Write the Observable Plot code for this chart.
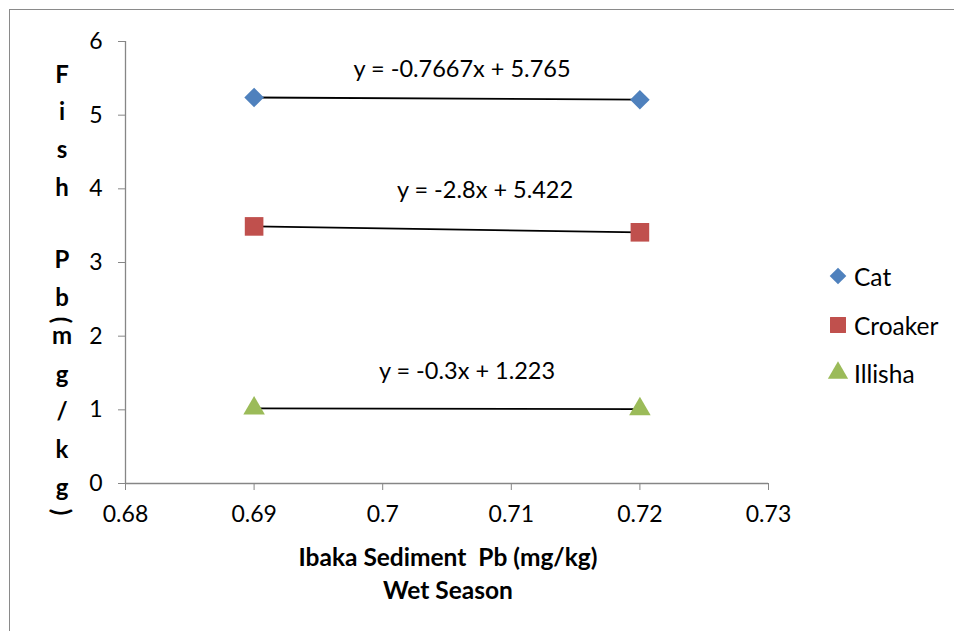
<!DOCTYPE html>
<html><head><meta charset="utf-8">
<script src="https://cdn.jsdelivr.net/npm/d3@7"></script>
<script src="https://cdn.jsdelivr.net/npm/@observablehq/plot@0.6"></script>
<style>
body{margin:0;background:#fff;}
#wrap{position:relative;width:954px;height:631px;overflow:hidden;background:#fff;}
#frame{position:absolute;left:9px;top:9px;width:1000px;height:700px;border:1px solid #8a8a8a;}
#chart{position:absolute;left:0;top:0;}
</style></head><body>
<div id="wrap"><div id="frame"></div><div id="chart"></div></div>
<script>
const species = ["Cat", "Croaker", "Illisha"];
const sedimentPb = [0.69, 0.72];
const catPb = [5.24, 5.21];
const croakerPb = [3.49, 3.41];
const illishaPb = [1.02, 1.01];
const equations = ["y = -0.7667x + 5.765", "y = -2.8x + 5.422", "y = -0.3x + 1.223"];
const xTicks = [0.68, 0.69, 0.7, 0.71, 0.72, 0.73];
const yTicks = [0, 1, 2, 3, 4, 5, 6];
const xTitle = ["Ibaka Sediment  Pb (mg/kg)", "Wet Season"];
const yTitleChars = ["F", "i", "s", "h", "P", "b", "(", "m", "g", "/", "k", "g", ")"];

const colors = ["#4F81BD", "#C0504D", "#9BBB59"];
const symbols = ["diamond2", "square", "triangle"];
const radii = [8.8, 10.5, 8];
const labelDx = [15, 38, 20];
const labelDy = [-29, -39, -37];
const series = [catPb, croakerPb, illishaPb];
const font = "Lato, 'Open Sans', sans-serif";

const data = species.map((s, i) => sedimentPb.map((x, j) => ({species: s, x, y: series[i][j]})));
const mid = species.map((s, i) => ({species: s, eq: equations[i], x: d3.mean(sedimentPb), y: d3.mean(series[i])}));

const marks = [
  Plot.ruleX([0.68], {stroke: "#868686", strokeWidth: 1.3}),
  Plot.ruleY([0], {stroke: "#868686", strokeWidth: 1.3}),
  Plot.axisX({ticks: xTicks, tickFormat: d => String(d), tickSize: 7, tickPadding: 15, stroke: "#868686", fill: "#000", fontSize: 23, label: null}),
  Plot.axisY({ticks: yTicks, tickFormat: d => String(d), tickSize: 7, tickPadding: 16, stroke: "#868686", fill: "#000", fontSize: 23, label: null}),
];
species.forEach((s, i) => {
  marks.push(Plot.line(data[i], {x: "x", y: "y", stroke: "#000", strokeWidth: 1.8}));
  marks.push(Plot.dot(data[i], {x: "x", y: "y", symbol: () => symbols[i], fill: colors[i], r: radii[i], stroke: "none"}));
  marks.push(Plot.text([mid[i]], {x: "x", y: "y", text: "eq", dx: labelDx[i], dy: labelDy[i], fontSize: 23.5, fill: "#000"}));
});

const chart = Plot.plot({
  width: 954, height: 631,
  marginLeft: 125, marginRight: 186, marginTop: 41, marginBottom: 148,
  style: {fontFamily: font, background: "transparent", overflow: "visible"},
  x: {domain: [0.68, 0.73]},
  y: {domain: [0, 6]},
  symbol: {type: "identity"},
  marks
});
document.getElementById("chart").appendChild(chart);

const svg = d3.select(chart);
// x title
const xt = svg.append("g").attr("font-family", font).attr("font-weight", "bold").attr("font-size", 24.5).attr("text-anchor", "middle").attr("fill", "#000");
xt.append("text").attr("x", 448).attr("y", 566).attr("xml:space", "preserve").text(xTitle[0]);
xt.append("text").attr("x", 448).attr("y", 599).text(xTitle[1]);
// y title, stacked characters
const yPos = [73, 110, 148, 186, 258, 296, 320, 334, 373, 410, 448, 486, 512];
const yt = svg.append("g").attr("font-family", font).attr("font-weight", "bold").attr("font-size", 24).attr("text-anchor", "middle").attr("fill", "#000");
yTitleChars.forEach((c, k) => {
  const t = yt.append("text").attr("dominant-baseline", "central").text(c);
  if (c === "(" || c === ")") t.attr("transform", `translate(62,${yPos[k]}) rotate(90)`);
  else t.attr("x", 62).attr("y", yPos[k]);
});
// legend
const lg = svg.append("g").attr("font-family", font).attr("font-size", 24.5).attr("fill", "#000").attr("text-anchor", "start");
const symMap = {diamond2: d3.symbolDiamond2, square: d3.symbolSquare, triangle: d3.symbolTriangle};
const legY = [276, 325, 373];
const legR = [7.5, 9, 7.5];
species.forEach((s, i) => {
  lg.append("path").attr("d", d3.symbol(symMap[symbols[i]], Math.PI * legR[i] * legR[i])()).attr("transform", `translate(838,${legY[i]})`).attr("fill", colors[i]);
  lg.append("text").attr("x", 854).attr("y", legY[i]).attr("dominant-baseline", "central").attr("text-anchor", "start").text(s);
});
</script>
</body></html>
